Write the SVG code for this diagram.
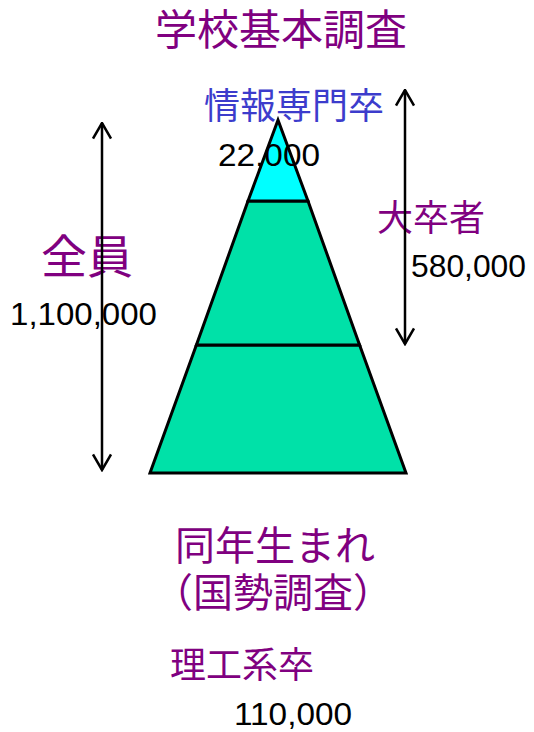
<svg xmlns="http://www.w3.org/2000/svg" width="534" height="732" viewBox="0 0 534 732">
<style>
.jp{font-family:"Noto Sans CJK JP","Noto Sans CJK SC",sans-serif;fill:#800080}
.blue{fill:#3c3ccc}
.num{font-family:"Liberation Sans",Arial,sans-serif;font-size:32px;fill:#000}
.band{stroke:#000;stroke-width:3;stroke-linejoin:miter}
.arr{stroke:#000;stroke-width:2.5;fill:none}
</style>
<defs>
<marker id="ah" viewBox="0 0 20 20" refX="18.5" refY="10" markerWidth="20" markerHeight="20" markerUnits="userSpaceOnUse" orient="auto-start-reverse">
<path d="M3,1 L18.5,10 L3,19" fill="none" stroke="#000" stroke-width="2.5"/>
</marker>
</defs>
<g id="pyramid">
<polygon id="tier-bottom" class="band" points="196.4,345 359.6,345 406,473 150,473" fill="#00e1a8"/>
<polygon id="tier-middle" class="band" points="248,201 308,201 359.6,345 196.4,345" fill="#00e1a8"/>
<polygon id="tier-top" class="band" points="278,120 308,201 248,201" fill="#00ffff"/>
</g>
<g id="labels">
<text id="title" class="jp" x="281" y="45" font-size="42" text-anchor="middle">学校基本調査</text>
<text id="joho" class="jp blue" x="294" y="119" font-size="36" text-anchor="middle">情報専門卒</text>
<text id="joho-num" class="num" x="218" y="166" font-size="33" textLength="102" lengthAdjust="spacingAndGlyphs">22,000</text>
<text id="daisotsu" class="jp" x="377" y="231" font-size="36">大卒者</text>
<text id="daisotsu-num" class="num" x="411" y="277" textLength="115" lengthAdjust="spacingAndGlyphs">580,000</text>
<text id="zenin" class="jp" x="41" y="273" font-size="46">全員</text>
<text id="zenin-num" class="num" x="10" y="325" textLength="147" lengthAdjust="spacingAndGlyphs">1,100,000</text>
<text id="dounen" class="jp" x="275" y="560" font-size="40" text-anchor="middle">同年生まれ</text>
<text id="kokusei" class="jp" x="273" y="607" font-size="40" text-anchor="middle">（国勢調査）</text>
<text id="riko" class="jp" x="170" y="678" font-size="36">理工系卒</text>
<text id="riko-num" class="num" x="234" y="725" textLength="118" lengthAdjust="spacingAndGlyphs">110,000</text>
</g>
<g id="connectors">
<line id="arrow-all" class="arr" x1="102" y1="123" x2="102" y2="470" marker-start="url(#ah)" marker-end="url(#ah)"/>
<line id="arrow-univ" class="arr" x1="405" y1="90" x2="405" y2="344" marker-start="url(#ah)" marker-end="url(#ah)"/>
</g>
</svg>
